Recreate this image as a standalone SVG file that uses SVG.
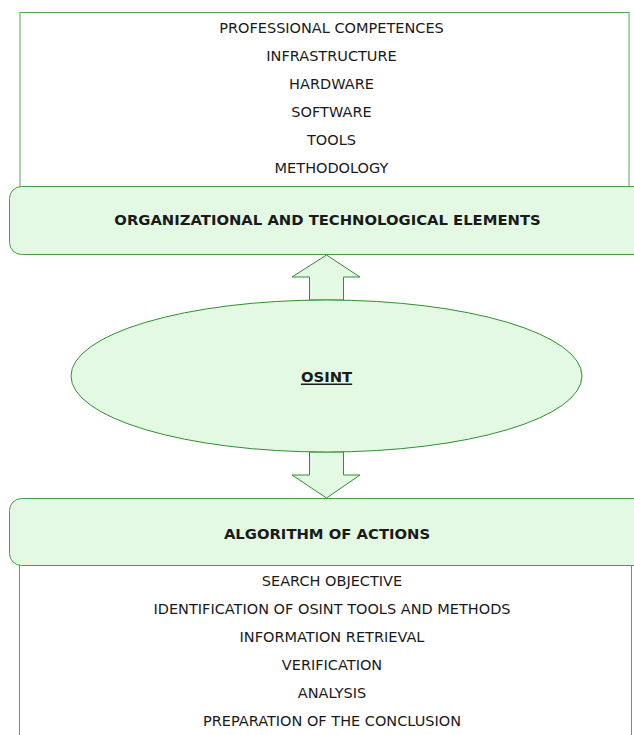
<svg xmlns="http://www.w3.org/2000/svg" width="634" height="735" viewBox="0 0 634 735">
<style>
.list{fill:#ffffff;stroke:#52a852;stroke-width:1}
.hdr{fill:#e3f9e3;stroke:#45a045;stroke-width:1}
.shp{fill:#e3f9e3;stroke:#2f8f2f;stroke-width:1}
.t{font-family:"DejaVu Sans","Liberation Sans",sans-serif;font-size:14.5px;fill:#1a1a1a;text-anchor:middle;dominant-baseline:central}
.b{font-weight:bold;font-size:14.8px}
</style>
<rect width="634" height="735" fill="#ffffff"/>
<g id="top-list">
<rect class="list" x="20" y="12.5" width="609" height="200"/>
<text class="t" x="331.5" y="28">PROFESSIONAL COMPETENCES</text>
<text class="t" x="331.5" y="56">INFRASTRUCTURE</text>
<text class="t" x="331.5" y="84">HARDWARE</text>
<text class="t" x="331.5" y="112">SOFTWARE</text>
<text class="t" x="331.5" y="140">TOOLS</text>
<text class="t" x="331.5" y="168">METHODOLOGY</text>
</g>
<g id="top-header">
<rect class="hdr" x="9.5" y="186.5" width="640" height="68" rx="12" ry="12"/>
<text class="t b" x="327.5" y="219">ORGANIZATIONAL AND TECHNOLOGICAL ELEMENTS</text>
</g>
<g id="bottom-list">
<rect class="list" x="19.5" y="560" width="612" height="200"/>
<text class="t" x="332" y="581">SEARCH OBJECTIVE</text>
<text class="t" x="332" y="609">IDENTIFICATION OF OSINT TOOLS AND METHODS</text>
<text class="t" x="332" y="637">INFORMATION RETRIEVAL</text>
<text class="t" x="332" y="665">VERIFICATION</text>
<text class="t" x="332" y="693">ANALYSIS</text>
<text class="t" x="332" y="721">PREPARATION OF THE CONCLUSION</text>
</g>
<g id="bottom-header">
<rect class="hdr" x="9.5" y="498.5" width="640" height="67" rx="12" ry="12"/>
<text class="t b" x="327" y="533">ALGORITHM OF ACTIONS</text>
</g>
<g id="connectors">
<path class="shp" d="M326.5 255 L360 277 L343.5 277 L343.5 300 L309.5 300 L309.5 277 L292 277 Z"/>
<path class="shp" d="M326.5 498 L360 475 L343.5 475 L343.5 452 L309.5 452 L309.5 475 L292 475 Z"/>
</g>
<g id="osint">
<ellipse class="shp" cx="326.5" cy="376" rx="255.5" ry="76"/>
<text class="t b" x="326.5" y="376" text-decoration="underline">OSINT</text>
</g>
</svg>
